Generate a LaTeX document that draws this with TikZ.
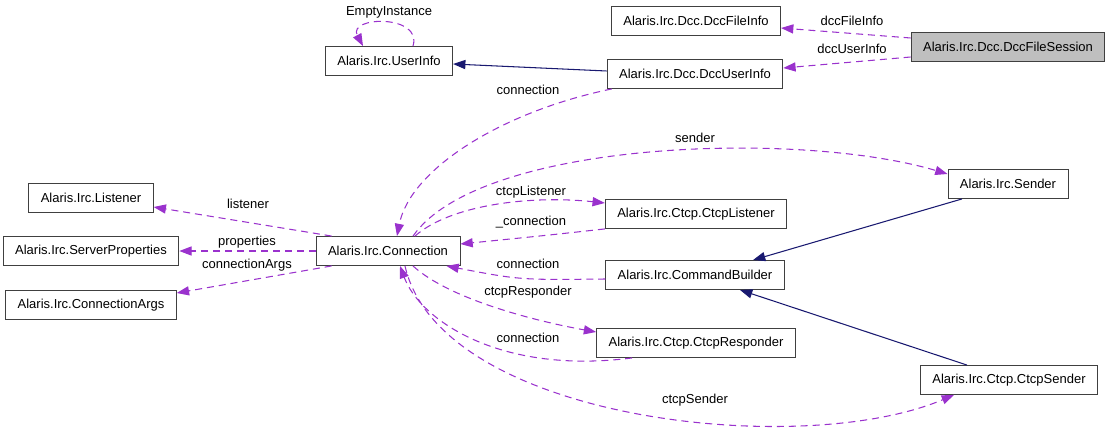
\documentclass[tikz,border=0pt]{standalone}
\usepackage{fontspec}
\setmainfont{Liberation Sans}
\usetikzlibrary{arrows.meta, calc}
\definecolor{Member}{HTML}{9A32CD}
\definecolor{Base}{HTML}{191970}
\definecolor{Frame}{HTML}{404040}
\definecolor{Focus}{HTML}{BFBFBF}
\tikzset{
    cls/.style={rectangle, draw=Frame, line width=0.5pt, fill=white, inner xsep=0.24cm, minimum height=0.58cm, font=\fontsize{7.4}{9}\selectfont},
    focus/.style={cls, fill=Focus},
    dep/.style={-{Triangle[length=7pt, width=5.2pt]}, Member, line width=0.6pt, dash pattern=on 4pt off 2.8pt},
    inh/.style={-{Triangle[length=7pt, width=5.2pt]}, Base, line width=0.6pt},
    lbl/.style={font=\fontsize{7.4}{9}\selectfont, inner sep=1pt},
}

\begin{document}
\begin{tikzpicture}[x=0.02cm, y=-0.02cm]
    \useasboundingbox (0,0) rectangle (1112,429);

    % Klassen
    \node[cls] (dfinfo) at (696,21) {Alaris.Irc.Dcc.DccFileInfo};
    \node[focus] (dfsess) at (1008,47) {Alaris.Irc.Dcc.DccFileSession};
    \node[cls] (uinfo) at (389,61) {Alaris.Irc.UserInfo};
    \node[cls] (duinfo) at (695,74) {Alaris.Irc.Dcc.DccUserInfo};
    \node[cls] (lsn) at (91,198) {Alaris.Irc.Listener};
    \node[cls] (sprop) at (91,251) {Alaris.Irc.ServerProperties};
    \node[cls] (cargs) at (91,305) {Alaris.Irc.ConnectionArgs};
    \node[cls] (conn) at (388,251) {Alaris.Irc.Connection};
    \node[cls] (sndr) at (1008,184) {Alaris.Irc.Sender};
    \node[cls] (clsn) at (696,214) {Alaris.Irc.Ctcp.CtcpListener};
    \node[cls] (cbld) at (695,275) {Alaris.Irc.CommandBuilder};
    \node[cls] (cresp) at (696,343) {Alaris.Irc.Ctcp.CtcpResponder};
    \node[cls] (csndr) at (1009,380) {Alaris.Irc.Ctcp.CtcpSender};

    % Vererbung
    \draw[inh] ($(duinfo.west)+(0,-3)$) -- ($(uinfo.east)+(0,3)$);
    \draw[inh] ($(sndr.south)+(-46,0)$) -- ($(cbld.north)+(58,0)$);
    \draw[inh] ($(csndr.north)+(-42,0)$) -- ($(cbld.south)+(45,0)$);

    % Member (Dcc)
    \draw[dep] ($(uinfo.north)+(24,0)$) .. controls +(10,-32) and +(-16,-30) .. ($(uinfo.north)+(-26,0)$);
    \draw[dep] ($(dfsess.west)+(0,-9)$) -- ($(dfinfo.east)+(0,7)$);
    \draw[dep] ($(dfsess.west)+(0,10)$) -- ($(duinfo.east)+(0,-6)$);
    \draw[dep] ($(duinfo.south west)+(5,0)$) .. controls (500,112) and (410,170) .. ($(conn.north)+(9,0)$);

    % Member (Connection)
    \draw[dep] ($(conn.north west)+(16,0)$) -- ($(lsn.east)+(0,9)$);
    \draw[dep] (conn.west) -- (sprop.east);
    \draw[dep] ($(conn.south west)+(16,0)$) -- ($(cargs.east)+(0,-12)$);
    \draw[dep] ($(conn.north)+(25,0)$) .. controls (480,140) and (800,130) .. ($(sndr.west)+(0,-10)$);
    \draw[dep] ($(conn.north)+(27,0)$) .. controls (450,205) and (530,195) .. ($(clsn.west)+(0,-11)$);
    \draw[dep] (clsn.south west) .. controls (550,235) .. ($(conn.east)+(0,-7)$);
    \draw[dep] ($(cbld.west)+(0,4)$) .. controls (520,280) .. ($(conn.south east)+(-14,0)$);
    \draw[dep] ($(conn.south)+(25,0)$) .. controls (450,300) and (540,322) .. ($(cresp.west)+(0,-11)$);
    \draw[dep] ($(cresp.south west)+(36,0)$) .. controls (500,375) and (420,320) .. ($(conn.south)+(12,0)$);
    \draw[dep] ($(conn.south)+(17,0)$) .. controls (440,420) and (800,460) .. ($(csndr.south west)+(34,0)$);

    % Beschriftungen
    \node[lbl] (lempty) at (389,12) {EmptyInstance};
    \node[lbl] (lfile) at (852,21) {dccFileInfo};
    \node[lbl] (luser) at (852,49) {dccUserInfo};
    \node[lbl] (lconn1) at (528,90) {connection};
    \node[lbl] (lsend) at (695,138) {sender};
    \node[lbl] (llsn) at (248,204) {listener};
    \node[lbl] (lprop) at (247,242) {properties};
    \node[lbl] (largs) at (247,265) {connectionArgs};
    \node[lbl] (lclsn) at (531,192) {ctcpListener};
    \node[lbl] (lconn2) at (531,222) {\_connection};
    \node[lbl] (lconn3) at (528,264) {connection};
    \node[lbl] (lresp) at (528,292) {ctcpResponder};
    \node[lbl] (lconn4) at (528,338) {connection};
    \node[lbl] (lcsnd) at (695,400) {ctcpSender};

\end{tikzpicture}
\end{document}
